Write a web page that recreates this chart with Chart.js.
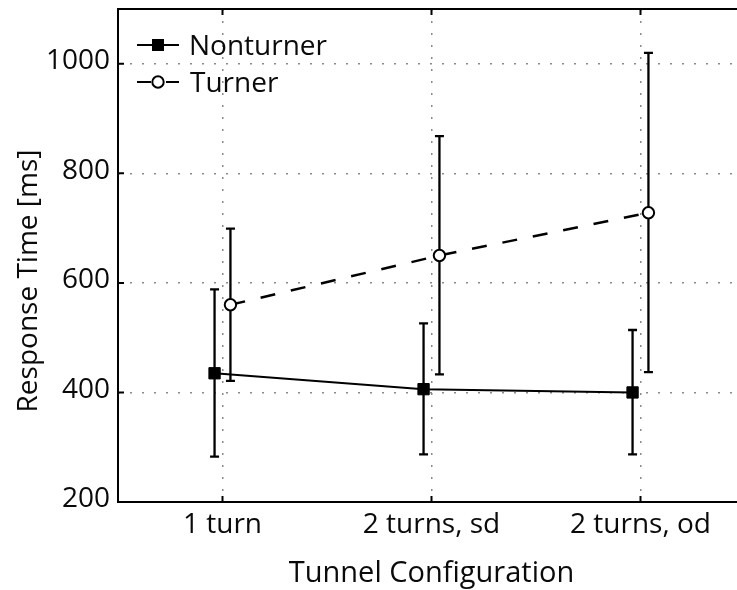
<!DOCTYPE html>
<html>
<head>
<meta charset="utf-8">
<title>Response Time by Tunnel Configuration</title>
<script src="https://cdn.jsdelivr.net/npm/chart.js@4.4.0/dist/chart.umd.min.js"></script>
<style>
    html, body { margin: 0; padding: 0; background: #ffffff; overflow: hidden; }
    #wrap { position: relative; width: 760px; height: 590px; }
</style>
</head>
<body>
<div id="wrap"><canvas id="rtChart"></canvas></div>
<script>
// Data (ms)
const categories = ['1 turn', '2 turns, sd', '2 turns, od'];
const yTicks = [200, 400, 600, 800, 1000];

const nonturnerMean = [435, 406, 400];
const nonturnerUpper = [588, 526, 514];
const nonturnerLower = [283, 287, 287];

const turnerMean = [560, 650, 728];
const turnerUpper = [699, 868, 1020];
const turnerLower = [421, 433, 437];

// the two groups sit slightly left / right of each category
const groupShift = 0.038;

const FONT = "'Open Sans', 'DejaVu Sans', sans-serif";
const INK = '#0a0a0a';

function toPoints(values, shift) {
    return values.map((v, i) => ({ x: i + shift, y: v }));
}

const errorBars = [
    { upper: nonturnerUpper, lower: nonturnerLower },
    { upper: turnerUpper, lower: turnerLower }
];

// error bars drawn under the markers
const errorBarPlugin = {
    id: 'errorBars',
    beforeDatasetsDraw(chart) {
        const ctx = chart.ctx;
        const xs = chart.scales.x;
        const ys = chart.scales.y;
        ctx.save();
        ctx.strokeStyle = '#000';
        ctx.lineWidth = 2.3;
        chart.data.datasets.forEach((ds, di) => {
            const eb = errorBars[di];
            ds.data.forEach((p, i) => {
                const x = xs.getPixelForValue(p.x);
                const yt = ys.getPixelForValue(eb.upper[i]);
                const yb = ys.getPixelForValue(eb.lower[i]);
                ctx.beginPath();
                ctx.moveTo(x, yt);
                ctx.lineTo(x, yb);
                ctx.moveTo(x - 4.5, yt);
                ctx.lineTo(x + 4.5, yt);
                ctx.moveTo(x - 4.5, yb);
                ctx.lineTo(x + 4.5, yb);
                ctx.stroke();
            });
        });
        ctx.restore();
    }
};

// axes box, inward tick marks, y title and the legend
const framePlugin = {
    id: 'frame',
    afterDraw(chart) {
        const ctx = chart.ctx;
        const a = chart.chartArea;
        const xs = chart.scales.x;
        const ys = chart.scales.y;
        ctx.save();
        ctx.strokeStyle = '#000';
        ctx.lineWidth = 2;
        ctx.strokeRect(a.left, a.top, a.right - a.left, a.bottom - a.top);

        ctx.beginPath();
        ys.ticks.forEach(t => {
            const y = ys.getPixelForValue(t.value);
            ctx.moveTo(a.left, y); ctx.lineTo(a.left + 6, y);
            ctx.moveTo(a.right, y); ctx.lineTo(a.right - 6, y);
        });
        xs.ticks.forEach(t => {
            const x = xs.getPixelForValue(t.value);
            ctx.moveTo(x, a.bottom); ctx.lineTo(x, a.bottom - 6);
            ctx.moveTo(x, a.top); ctx.lineTo(x, a.top + 6);
        });
        ctx.stroke();

        // y axis title, sits a bit below the middle of the axis in the original
        ctx.save();
        ctx.translate(37, 281);
        ctx.rotate(-Math.PI / 2);
        ctx.fillStyle = INK;
        ctx.font = '28px ' + FONT;
        ctx.textAlign = 'center';
        ctx.textBaseline = 'alphabetic';
        ctx.fillText('Response Time [ms]', 0, 0);
        ctx.restore();

        // legend
        const lx0 = a.left + 19;
        const lx1 = a.left + 61;
        const mx = a.left + 40;
        const row1 = a.top + 36;
        const row2 = a.top + 73;
        ctx.lineWidth = 2;
        ctx.beginPath();
        ctx.moveTo(lx0, row1); ctx.lineTo(lx1, row1);
        ctx.moveTo(lx0, row2); ctx.lineTo(mx - 7, row2);
        ctx.moveTo(mx + 8, row2); ctx.lineTo(lx1, row2);
        ctx.stroke();
        ctx.fillStyle = '#000';
        ctx.fillRect(mx - 6, row1 - 6, 12, 12);
        ctx.beginPath();
        ctx.arc(mx, row2, 5.7, 0, Math.PI * 2);
        ctx.fillStyle = '#fff';
        ctx.fill();
        ctx.stroke();

        ctx.fillStyle = INK;
        ctx.font = '28px ' + FONT;
        ctx.textBaseline = 'alphabetic';
        ctx.textAlign = 'left';
        ctx.fillText('Nonturner', a.left + 71, row1 + 10);
        ctx.fillText('Turner', a.left + 72, row2 + 10);
        ctx.restore();
    }
};

const ctx = document.getElementById('rtChart').getContext('2d');
new Chart(ctx, {
    type: 'line',
    data: {
        datasets: [
            {
                label: 'Nonturner',
                data: toPoints(nonturnerMean, -groupShift),
                borderColor: '#000',
                backgroundColor: '#000',
                borderWidth: 2,
                pointStyle: 'rect',
                pointRadius: 8,
                pointBorderWidth: 1,
                pointBackgroundColor: '#000',
                pointBorderColor: '#000',
                tension: 0,
                fill: false
            },
            {
                label: 'Turner',
                data: toPoints(turnerMean, groupShift),
                borderColor: '#000',
                backgroundColor: '#fff',
                borderWidth: 2.5,
                borderDash: [15, 16],
                pointStyle: 'circle',
                pointRadius: 5.7,
                pointBorderWidth: 2,
                pointBackgroundColor: '#fff',
                pointBorderColor: '#000',
                tension: 0,
                fill: false
            }
        ]
    },
    options: {
        responsive: true,
        maintainAspectRatio: false,
        animation: false,
        events: [],
        layout: { padding: { top: 8, right: 15, left: 0, bottom: 0 } },
        plugins: {
            legend: { display: false },
            tooltip: { enabled: false }
        },
        scales: {
            x: {
                type: 'linear',
                min: -0.5,
                max: 2.5,
                afterBuildTicks: (scale) => {
                    scale.ticks = categories.map((c, i) => ({ value: i }));
                },
                afterFit: (scale) => {
                    scale.height = 88;
                    scale.paddingLeft = 0;
                    scale.paddingRight = 0;
                },
                grid: { color: '#8a8a8a', lineWidth: 1.5, drawTicks: false },
                border: { display: false, dash: [2, 10] },
                ticks: {
                    color: INK,
                    padding: 6,
                    maxRotation: 0,
                    autoSkip: false,
                    font: { family: FONT, size: 28 },
                    callback: (v) => categories[v]
                },
                title: {
                    display: true,
                    text: 'Tunnel Configuration',
                    color: INK,
                    padding: { top: 0, bottom: 0 },
                    font: { family: FONT, size: 29, lineHeight: 1.1 }
                }
            },
            y: {
                min: 200,
                max: 1100,
                afterBuildTicks: (scale) => {
                    scale.ticks = yTicks.map(v => ({ value: v }));
                },
                afterFit: (scale) => {
                    scale.width = 118;
                    scale.paddingTop = 0;
                    scale.paddingBottom = 0;
                },
                grid: { color: '#8a8a8a', lineWidth: 1.5, drawTicks: false },
                border: { display: false, dash: [2, 10] },
                ticks: {
                    color: INK,
                    padding: 8,
                    labelOffset: -2.5,
                    font: { family: FONT, size: 28 },
                    callback: (v) => String(v)
                },
                title: { display: false }
            }
        }
    },
    plugins: [errorBarPlugin, framePlugin]
});
</script>
</body>
</html>
